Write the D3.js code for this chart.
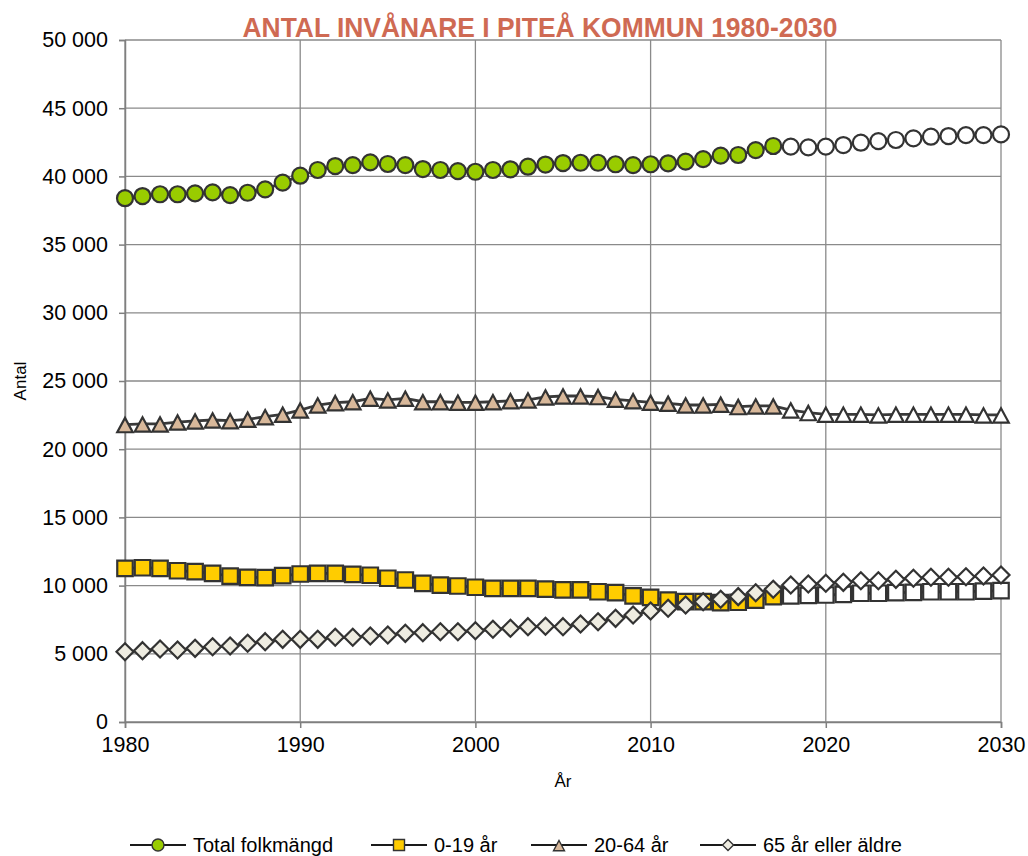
<!DOCTYPE html>
<html>
<head>
<meta charset="utf-8">
<script src="https://cdn.jsdelivr.net/npm/d3@7"></script>
<style>
  body { margin: 0; background: #fff; }
  text { font-family: "Liberation Sans", Arial, sans-serif; }
</style>
</head>
<body>
<div id="chart"></div>
<script>
// Years 1980-2030, forecast from 2018
const years = d3.range(1980, 2031);
const firstForecastYear = 2018;

const total = [38400, 38560, 38690, 38690, 38760, 38830, 38630, 38800, 39050, 39540,
  40050, 40470, 40760, 40830, 41030, 40910, 40830, 40540, 40470, 40390,
  40340, 40470, 40520, 40710, 40870, 40980, 41000, 41000, 40890, 40830,
  40890, 40960, 41080, 41270, 41520, 41570, 41930, 42230, 42180, 42130,
  42180, 42300, 42470, 42590, 42670, 42790, 42910, 42960, 43030, 43030, 43080];

const age0to19 = [11270, 11310, 11270, 11090, 11020, 10900, 10700, 10610, 10580, 10730,
  10850, 10900, 10900, 10830, 10760, 10540, 10410, 10170, 10040, 9970,
  9880, 9800, 9800, 9800, 9740, 9680, 9680, 9550, 9480, 9240,
  9140, 8940, 8820, 8820, 8750, 8780, 8940, 9190, 9240, 9290,
  9310, 9360, 9440, 9440, 9480, 9510, 9550, 9550, 9550, 9600, 9630];

const age20to64 = [21800, 21850, 21850, 21990, 22070, 22140, 22090, 22190, 22380, 22560,
  22870, 23240, 23410, 23480, 23730, 23610, 23730, 23480, 23480, 23440,
  23440, 23480, 23550, 23610, 23830, 23900, 23900, 23850, 23660, 23550,
  23440, 23360, 23240, 23240, 23290, 23120, 23170, 23170, 22870, 22680,
  22560, 22560, 22560, 22510, 22560, 22560, 22560, 22560, 22560, 22510, 22510];

const age65plus = [5150, 5230, 5350, 5280, 5400, 5520, 5570, 5770, 5890, 6060,
  6060, 6060, 6210, 6210, 6310, 6380, 6500, 6550, 6620, 6620,
  6690, 6800, 6870, 6990, 7020, 6990, 7180, 7350, 7600, 7840,
  8140, 8340, 8580, 8820, 9000, 9190, 9480, 9730, 10040, 10120,
  10170, 10240, 10360, 10360, 10460, 10540, 10610, 10610, 10650, 10700, 10780];

const seriesNames = ["Total folkmängd", "0-19 år", "20-64 år", "65 år eller äldre"];
const seriesValues = [total, age0to19, age20to64, age65plus];
const seriesShapes = ["circle", "square", "triangle", "diamond"];
const seriesColors = ["#99cc00", "#ffcc00", "#d8b89a", "#eeece1"];

const yTicks = d3.range(0, 50001, 5000);
const xTicks = d3.range(1980, 2031, 10);

const width = 1028, height = 856;
const plotLeft = 125, plotRight = 1001, plotTop = 40, plotBottom = 722;

const svg = d3.select("#chart").append("svg")
  .attr("width", width).attr("height", height);

const x = d3.scaleLinear().domain([1980, 2030]).range([plotLeft, plotRight]);
const y = d3.scaleLinear().domain([0, 50000]).range([plotBottom, plotTop]);

const fmt = v => d3.format(",")(v).replace(/,/g, " ");

// grid
svg.append("g").selectAll("line").data(yTicks).join("line")
  .attr("x1", plotLeft).attr("x2", plotRight)
  .attr("y1", d => y(d)).attr("y2", d => y(d))
  .attr("stroke", "#8a8a8a").attr("stroke-width", 1.3);
svg.append("g").selectAll("line").data(xTicks).join("line")
  .attr("x1", d => x(d)).attr("x2", d => x(d))
  .attr("y1", plotTop).attr("y2", plotBottom)
  .attr("stroke", "#8a8a8a").attr("stroke-width", 1.3);

// axes
const yAxis = svg.append("g").attr("transform", `translate(${plotLeft},0)`)
  .call(d3.axisLeft(y).tickValues(yTicks).tickSize(6).tickPadding(11).tickFormat(fmt));
const xAxis = svg.append("g").attr("transform", `translate(0,${plotBottom})`)
  .call(d3.axisBottom(x).tickValues(xTicks).tickSize(6).tickPadding(9).tickFormat(d3.format("d")));
[yAxis, xAxis].forEach(a => {
  a.select(".domain").attr("stroke", "#7f7f7f").attr("stroke-width", 1.5);
  a.selectAll(".tick line").attr("stroke", "#7f7f7f").attr("stroke-width", 1.5);
  a.selectAll("text").attr("font-size", 21.5).attr("fill", "#000")
    .attr("font-family", "'Liberation Sans', Arial, sans-serif");
});

// axis titles
svg.append("text").attr("x", 563).attr("y", 787)
  .attr("text-anchor", "middle").attr("font-size", 17).text("År");
svg.append("text").attr("transform", "translate(26,381) rotate(-90)")
  .attr("text-anchor", "middle").attr("font-size", 17).text("Antal");

// title
svg.append("text").attr("x", 540).attr("y", 37)
  .attr("text-anchor", "middle")
  .attr("font-family", "'Liberation Sans Narrow', 'Liberation Sans', sans-serif")
  .attr("font-weight", "bold").attr("font-size", 28)
  .attr("fill", "#cf6a53")
  .attr("textLength", 595).attr("lengthAdjust", "spacingAndGlyphs")
  .text("ANTAL INVÅNARE I PITEÅ KOMMUN 1980-2030");

function markerPath(shape, s) {
  const h = s / 2;
  if (shape === "square") return `M${-h},${-h}H${h}V${h}H${-h}Z`;
  if (shape === "triangle") return `M0,${-h}L${h},${h * 0.85}L${-h},${h * 0.85}Z`;
  if (shape === "diamond") return `M0,${-h}L${h},0L0,${h}L${-h},0Z`;
  return d3.arc()({ innerRadius: 0, outerRadius: h, startAngle: 0, endAngle: 2 * Math.PI });
}

const line = d3.line().x((d, i) => x(years[i])).y(d => y(d));

seriesValues.forEach((vals, k) => {
  const g = svg.append("g");
  g.append("path").datum(vals).attr("d", line)
    .attr("fill", "none").attr("stroke", "#3a3a3a").attr("stroke-width", 2.8);
  const size = seriesShapes[k] === "circle" ? 16 : (seriesShapes[k] === "diamond" ? 17 : 15.5);
  g.selectAll("path.m").data(vals).join("path").attr("class", "m")
    .attr("transform", (d, i) => `translate(${x(years[i])},${y(d) + (seriesShapes[k] === "triangle" ? 1 : 0)})`)
    .attr("d", markerPath(seriesShapes[k], size))
    .attr("fill", (d, i) => years[i] >= firstForecastYear ? "#fff" : seriesColors[k])
    .attr("stroke", "#333").attr("stroke-width", 2.2);
});

// legend
const legendX = [130, 371, 531, 700];
const legend = svg.append("g");
seriesNames.forEach((name, k) => {
  const lx = legendX[k], ly = 845;
  legend.append("line").attr("x1", lx).attr("x2", lx + 56).attr("y1", ly).attr("y2", ly)
    .attr("stroke", "#1a1a1a").attr("stroke-width", 2.2);
  legend.append("path").attr("transform", `translate(${lx + 28},${ly + (seriesShapes[k] === "triangle" ? 1 : 0)})`)
    .attr("d", markerPath(seriesShapes[k], seriesShapes[k] === "circle" ? 12 : 11))
    .attr("fill", seriesColors[k]).attr("stroke", "#333").attr("stroke-width", 1.4);
  legend.append("text").attr("x", lx + 63).attr("y", ly + 7)
    .attr("font-family", "'Open Sans', sans-serif").attr("font-size", 20)
    .text(name);
});
</script>
</body>
</html>
